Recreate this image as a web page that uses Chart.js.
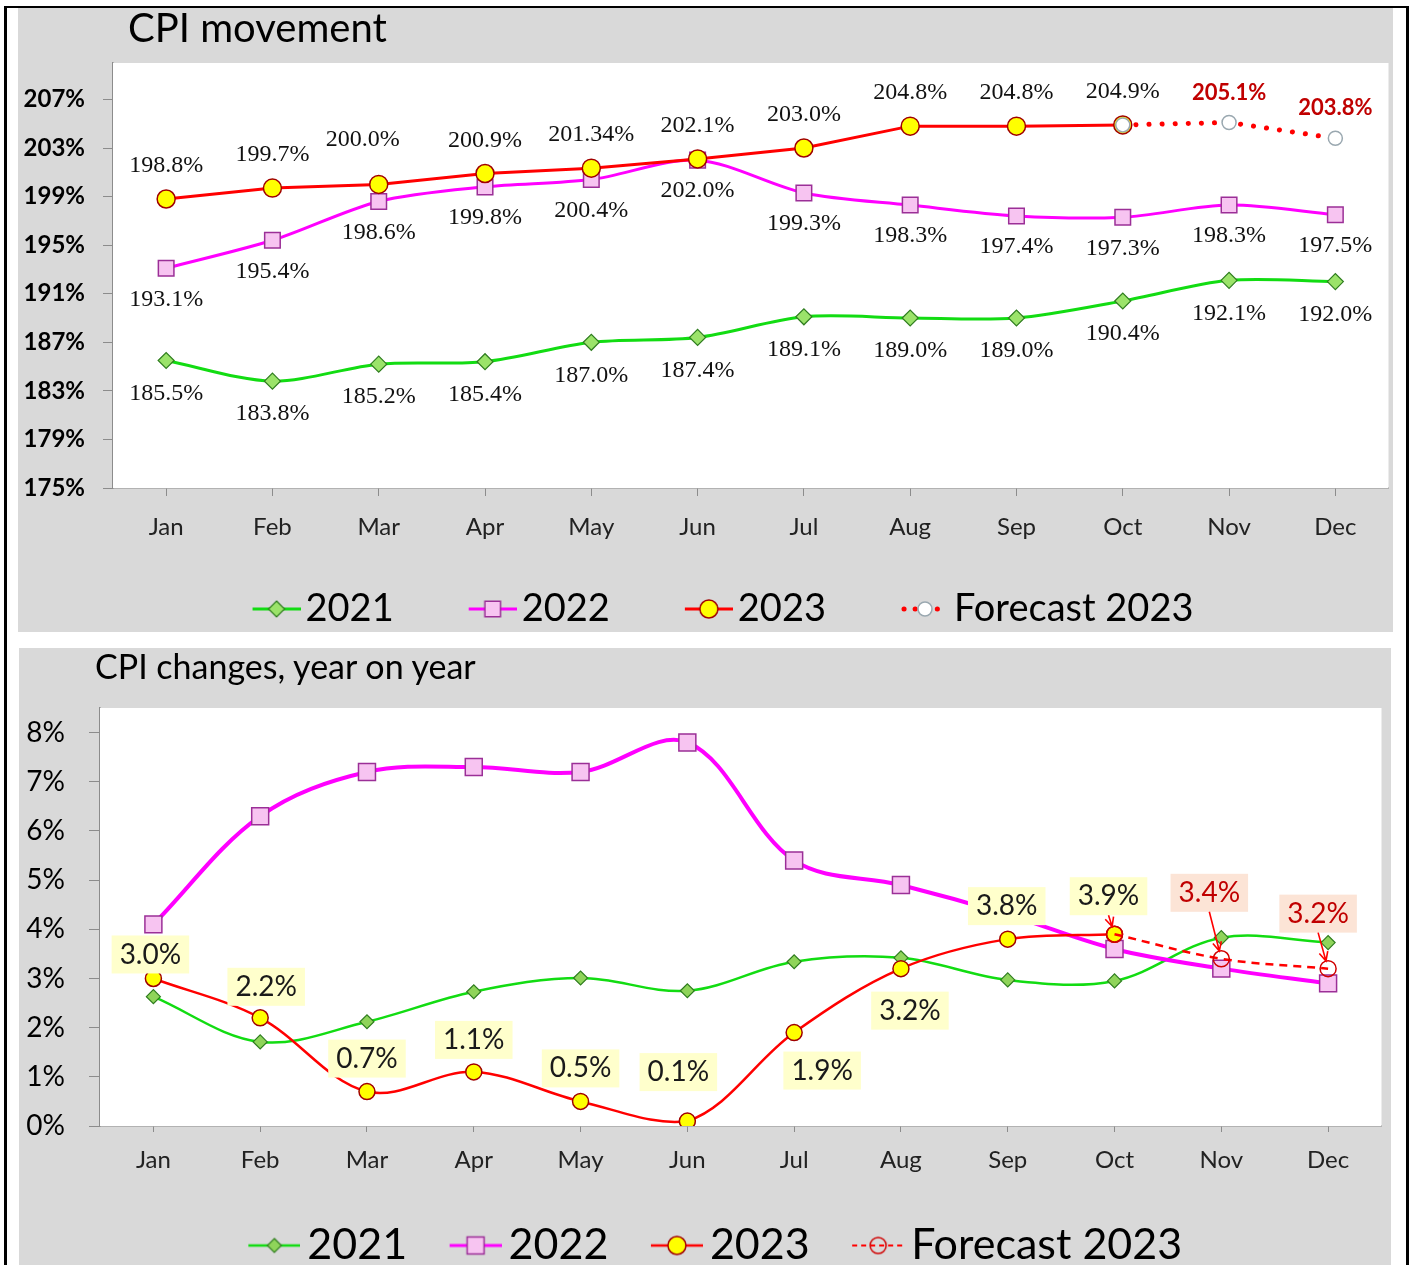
<!DOCTYPE html>
<html>
<head>
<meta charset="utf-8">
<script src="https://cdn.jsdelivr.net/npm/chart.js@4.4.1/dist/chart.umd.min.js"></script>
<style>
body{margin:0;background:#fff;width:1415px;height:1265px;overflow:hidden;position:relative;font-family:Lato,sans-serif}
#moldura{position:absolute;left:4px;top:6px;width:1399px;height:1300px;border-left:3px solid #000;border-top:2px solid #000;border-right:3px solid #000}
.painel{position:absolute;background:#d9d9d9;overflow:hidden}
#painelTopo{left:18px;top:8px;width:1375px;height:624px}
#painelBase{left:19px;top:648px;width:1372px;height:617px}
canvas{position:absolute;left:0;top:0}
.titulo{position:absolute;font-family:Lato,sans-serif;color:#000;white-space:nowrap}
#tituloTopo{left:110px;top:-1px;font-size:40px;line-height:40px}
#tituloBase{left:76px;top:1px;font-size:34px;line-height:34px}
</style>
</head>
<body>
<div id="moldura"></div>
<div class="painel" id="painelTopo">
<canvas id="graficoIndice" width="1383" height="630"></canvas>
<div class="titulo" id="tituloTopo">CPI movement</div>
</div>
<div class="painel" id="painelBase">
<canvas id="graficoVariacao" width="1376" height="629"></canvas>
<div class="titulo" id="tituloBase">CPI changes, year on year</div>
</div>
<script>
let meses=['Jan','Feb','Mar','Apr','May','Jun','Jul','Aug','Sep','Oct','Nov','Dec']

let indice2021=[185.5,183.8,185.2,185.4,187.0,187.4,189.1,189.0,189.0,190.4,192.1,192.0]
let indice2022=[193.1,195.4,198.6,199.8,200.4,202.0,199.3,198.3,197.4,197.3,198.3,197.5]
let indice2023=[198.8,199.7,200.0,200.9,201.34,202.1,203.0,204.8,204.8,204.9,null,null]
let indicePrevisao=[null,null,null,null,null,null,null,null,null,204.9,205.1,203.8]
let ticksIndice=[175,179,183,187,191,195,199,203,207]

let variacao2021=[2.63,1.71,2.12,2.73,3.01,2.75,3.34,3.42,2.97,2.95,3.83,3.73]
let variacao2022=[4.1,6.3,7.2,7.3,7.2,7.8,5.4,4.9,4.3,3.6,3.2,2.9]
let variacao2023=[3.0,2.2,0.7,1.1,0.5,0.1,1.9,3.2,3.8,3.9,null,null]
let variacaoPrevisao=[null,null,null,null,null,null,null,null,null,3.9,3.4,3.2]
let ticksVariacao=[0,1,2,3,4,5,6,7,8]

let series=['2021','2022','2023','Forecast 2023']

function marcador(ctx,forma,x,y,r,fundo,borda,larg){

ctx.beginPath()

if(forma==='diamante'){
ctx.moveTo(x,y-r)
ctx.lineTo(x+r,y)
ctx.lineTo(x,y+r)
ctx.lineTo(x-r,y)
ctx.closePath()
}else if(forma==='quadrado'){
let h=r*Math.SQRT1_2
ctx.rect(x-h,y-h,2*h,2*h)
}else{
ctx.arc(x,y,r,0,Math.PI*2)
}

if(fundo){
ctx.fillStyle=fundo
ctx.fill()
}

ctx.lineWidth=larg
ctx.strokeStyle=borda
ctx.stroke()

}

function criarIcone(larg,inicio,e){

let c=document.createElement('canvas')
c.width=larg
c.height=32
let ctx=c.getContext('2d')

ctx.strokeStyle=e.cor
ctx.lineWidth=e.espessura
ctx.lineCap=e.ponta||'butt'
if(e.tracos)ctx.setLineDash(e.tracos)
ctx.beginPath()
ctx.moveTo(inicio+(e.ponta?3:0),16)
ctx.lineTo(larg-(e.ponta?3:0),16)
ctx.stroke()
ctx.setLineDash([])

marcador(ctx,e.forma,(inicio+larg)/2,16,e.raio,e.fundo,e.borda,e.bordaLarg)

return c

}

function pluginFundo(){
return{
id:'fundoBranco',
beforeDatasetsDraw(chart){
let{ctx,chartArea:a}=chart
ctx.save()
ctx.fillStyle='#fff'
ctx.fillRect(a.left,a.top,a.right-a.left,a.bottom-a.top)
ctx.restore()
}
}
}

function seta(ctx,x1,y1,x2,y2,cor){

let ang=Math.atan2(y2-y1,x2-x1)

ctx.strokeStyle=cor
ctx.lineWidth=1.6
ctx.beginPath()
ctx.moveTo(x1,y1)
ctx.lineTo(x2,y2)
ctx.moveTo(x2-10*Math.cos(ang-.45),y2-10*Math.sin(ang-.45))
ctx.lineTo(x2,y2)
ctx.lineTo(x2-10*Math.cos(ang+.45),y2-10*Math.sin(ang+.45))
ctx.stroke()

}

function pluginRotulos(conjuntos){
return{
id:'rotulos',
afterDatasetsDraw(chart){

let ctx=chart.ctx

conjuntos.forEach(c=>{

let meta=chart.getDatasetMeta(c.dataset)
let valores=chart.data.datasets[c.dataset].data

meta.data.forEach((p,i)=>{

let v=valores[i]
if(v==null)return
if(c.apenas&&!c.apenas.includes(i))return

let d=(c.ajustes&&c.ajustes[i])||[0,c.dy||0]
let x=p.x+d[0]
let y=p.y+d[1]
let texto=c.formato(v)

ctx.save()
ctx.font=c.fonte
let tw=ctx.measureText(texto).width

if(c.caixa){
ctx.fillStyle=c.caixa
ctx.fillRect(x-tw/2-8,y-19,tw+16,38)
}

if(c.setas&&c.setas.includes(i)){
let x1=x,y1=y+19
let ang=Math.atan2(p.y-y1,p.x-x1)
seta(ctx,x1,y1,p.x-8*Math.cos(ang),p.y-8*Math.sin(ang),'#ff0000')
}

ctx.fillStyle=c.cor
ctx.textAlign='center'
ctx.textBaseline='middle'
ctx.fillText(texto,x,y)
ctx.restore()

})

})

}
}
}

function legendaCom(icones){
return chart=>chart.data.datasets.map((ds,i)=>({
text:ds.label,
pointStyle:icones[i],
datasetIndex:i,
hidden:false,
lineWidth:0,
strokeStyle:'rgba(0,0,0,0)',
fillStyle:'rgba(0,0,0,0)',
fontColor:'#000'
}))
}

// a escala nao deve pedir margem extra ao layout
function ajustarEixo(largura,altura){
return s=>{
if(largura)s.width=largura
if(altura)s.height=altura
s.paddingLeft=0
s.paddingRight=0
s.paddingTop=0
s.paddingBottom=0
}
}

let formatoIndice=v=>(Math.abs(v*10-Math.round(v*10))<1e-6?v.toFixed(1):String(v))+'%'
let formatoVariacao=v=>v.toFixed(1)+'%'

// grafico de cima: indice

let iconesTopo=[
criarIcone(133,85,{cor:'#12dc12',espessura:3,forma:'diamante',raio:8,fundo:'#9be36a',borda:'#2f7d1f',bordaLarg:1.2}),
criarIcone(133,85,{cor:'#ff00ff',espessura:3,forma:'quadrado',raio:11,fundo:'#f7c4f1',borda:'#9b2f97',bordaLarg:1.5}),
criarIcone(133,85,{cor:'#ff0000',espessura:3,forma:'circulo',raio:9,fundo:'#ffff00',borda:'#a00000',bordaLarg:1.5}),
criarIcone(133,85,{cor:'#ff0000',espessura:5,ponta:'round',tracos:[0.1,11],forma:'circulo',raio:7,fundo:'#ffffff',borda:'#9aa8b0',bordaLarg:1.5})
]

new Chart(document.getElementById('graficoIndice'),{
type:'line',
data:{
labels:meses,
datasets:[
{label:series[0],order:3,data:indice2021,borderColor:'#12dc12',borderWidth:3,tension:.3,pointStyle:'rectRot',pointRadius:8,pointBackgroundColor:'#9be36a',pointBorderColor:'#2f7d1f',pointBorderWidth:1.2},
{label:series[1],order:2,data:indice2022,borderColor:'#ff00ff',borderWidth:3,tension:.3,pointStyle:'rect',pointRadius:11,pointBackgroundColor:'#f7c4f1',pointBorderColor:'#9b2f97',pointBorderWidth:1.5},
{label:series[2],order:1,data:indice2023,borderColor:'#ff0000',borderWidth:3,tension:0,pointStyle:'circle',pointRadius:9,pointBackgroundColor:'#ffff00',pointBorderColor:'#a00000',pointBorderWidth:1.5},
{label:series[3],order:0,data:indicePrevisao,borderColor:'#ff0000',borderWidth:5,borderCapStyle:'round',borderDash:[0.1,13],tension:0,pointStyle:'circle',pointRadius:7,pointBackgroundColor:'#ffffff',pointBorderColor:'#9aa8b0',pointBorderWidth:1.5}
]
},
options:{
responsive:false,
animation:false,
events:[],
layout:{padding:{left:-40,right:4,top:55,bottom:0}},
plugins:{
title:{display:false},
tooltip:{enabled:false},
legend:{
position:'bottom',
labels:{
usePointStyle:true,
pointStyleWidth:105,
padding:4,
color:'#000',
font:{family:'Lato',size:38},
generateLabels:legendaCom(iconesTopo)
}
}
},
scales:{
x:{
offset:true,
grid:{display:true,drawOnChartArea:false,drawTicks:true,tickLength:8,color:'#8c8c8c'},
border:{color:'#8c8c8c',width:1.5},
ticks:{color:'#222',padding:17,font:{family:'Lato',size:24}},
afterFit:ajustarEixo(0,98)
},
y:{
min:175,
max:210,
grid:{display:true,drawOnChartArea:false,drawTicks:true,tickLength:10,color:'#8c8c8c'},
border:{color:'#8c8c8c',width:1.5},
ticks:{color:'#000',padding:18,font:{family:'Lato',size:24,weight:'bold'},callback:v=>v+'%'},
afterBuildTicks:s=>{s.ticks=ticksIndice.map(v=>({value:v}))},
afterFit:ajustarEixo(135,0)
}
}
},
plugins:[pluginFundo(),pluginRotulos([
{dataset:0,dy:33,fonte:'24px "Liberation Serif"',cor:'#111',formato:formatoIndice},
{dataset:1,dy:31,fonte:'24px "Liberation Serif"',cor:'#111',formato:formatoIndice},
{dataset:2,dy:-33,ajustes:{2:[-16,-45]},fonte:'24px "Liberation Serif"',cor:'#111',formato:formatoIndice},
{dataset:3,dy:-30,apenas:[10,11],fonte:'bold 22px Lato',cor:'#c00000',formato:formatoIndice}
])]
})

// grafico de baixo: variacao anual

let iconesBase=[
criarIcone(109,57,{cor:'#12dc12',espessura:2.5,forma:'diamante',raio:7,fundo:'#8fd45a',borda:'#2f7d1f',bordaLarg:1.2}),
criarIcone(109,57,{cor:'#ff00ff',espessura:3,forma:'quadrado',raio:12,fundo:'#f7c4f1',borda:'#9b2f97',bordaLarg:1.5}),
criarIcone(109,57,{cor:'#ff0000',espessura:2.5,forma:'circulo',raio:9,fundo:'#ffff00',borda:'#a00000',bordaLarg:1.5}),
criarIcone(109,57,{cor:'#ff0000',espessura:2,tracos:[5,4],forma:'circulo',raio:8,fundo:null,borda:'#d00000',bordaLarg:1.5})
]

new Chart(document.getElementById('graficoVariacao'),{
type:'line',
data:{
labels:meses,
datasets:[
{label:series[0],order:3,data:variacao2021,borderColor:'#12dc12',borderWidth:2.5,tension:.35,pointStyle:'rectRot',pointRadius:7,pointBackgroundColor:'#8fd45a',pointBorderColor:'#2f7d1f',pointBorderWidth:1.2},
{label:series[1],order:2,data:variacao2022,borderColor:'#ff00ff',borderWidth:4,tension:.35,pointStyle:'rect',pointRadius:12,pointBackgroundColor:'#f7c4f1',pointBorderColor:'#9b2f97',pointBorderWidth:1.5},
{label:series[2],order:1,data:variacao2023,borderColor:'#ff0000',borderWidth:2.5,tension:.35,pointStyle:'circle',pointRadius:8,pointBackgroundColor:'#ffff00',pointBorderColor:'#a00000',pointBorderWidth:1.5},
{label:series[3],order:0,data:variacaoPrevisao,borderColor:'#ff0000',borderWidth:2.5,borderDash:[8,6],tension:.35,pointStyle:'circle',pointRadius:8,pointBackgroundColor:'rgba(255,255,255,0)',pointBorderColor:'#d00000',pointBorderWidth:1.5}
]
},
options:{
responsive:false,
animation:false,
events:[],
layout:{padding:{left:-16,right:10,top:60,bottom:0}},
plugins:{
title:{display:false},
tooltip:{enabled:false},
legend:{
position:'bottom',
labels:{
usePointStyle:true,
pointStyleWidth:80,
padding:0,
color:'#000',
font:{family:'Lato',size:43},
generateLabels:legendaCom(iconesBase)
}
}
},
scales:{
x:{
offset:true,
grid:{display:true,drawOnChartArea:false,drawTicks:true,tickLength:6,color:'#8c8c8c'},
border:{color:'#8c8c8c',width:1.5},
ticks:{color:'#222',padding:14,font:{family:'Lato',size:24}},
afterFit:ajustarEixo(0,98)
},
y:{
min:0,
max:8.5,
grid:{display:true,drawOnChartArea:false,drawTicks:true,tickLength:11,color:'#8c8c8c'},
border:{color:'#8c8c8c',width:1.5},
ticks:{color:'#000',padding:24,font:{family:'Lato',size:28},callback:v=>v+'%'},
afterBuildTicks:s=>{s.ticks=ticksVariacao.map(v=>({value:v}))},
afterFit:ajustarEixo(97,0)
}
}
},
plugins:[pluginFundo(),pluginRotulos([
{dataset:2,ajustes:{0:[-3,-24],1:[6,-31],2:[0,-33],3:[0,-32],4:[0,-33],5:[-9,-49],6:[28,38],7:[9,42],8:[-1,-33],9:[-6,-38]},setas:[9],caixa:'#ffffcc',fonte:'28px Lato',cor:'#1a1a1a',formato:formatoVariacao},
{dataset:3,apenas:[10,11],ajustes:{10:[-12,-66],11:[-10,-55]},setas:[10,11],caixa:'#fce4d6',fonte:'28px Lato',cor:'#c00000',formato:formatoVariacao}
])]
})
</script>
</body>
</html>
